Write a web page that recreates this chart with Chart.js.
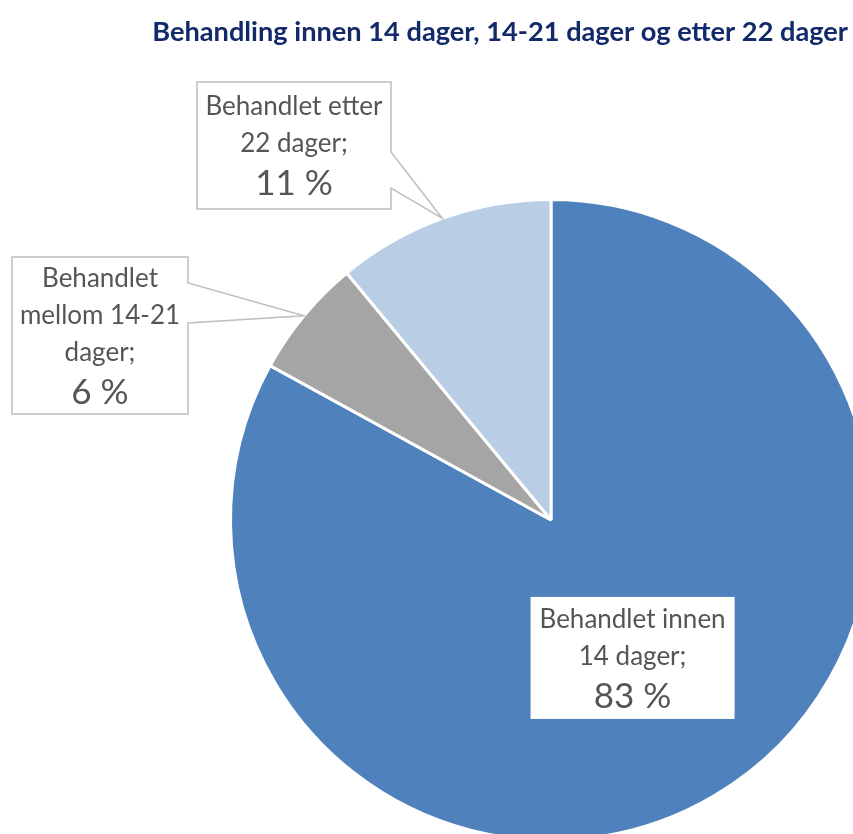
<!DOCTYPE html>
<html>
<head>
<meta charset="utf-8">
<script src="https://cdn.jsdelivr.net/npm/chart.js@4.4.1/dist/chart.umd.min.js"></script>
<style>
    html, body { margin: 0; padding: 0; overflow: hidden; background: #fff; }
    #wrap { position: relative; width: 900px; height: 900px; }
</style>
</head>
<body>
<div id="wrap"><canvas id="pieChart" width="900" height="900"></canvas></div>
<script>
const chartTitle = 'Behandling innen 14 dager, 14-21 dager og etter 22 dager';
const categories = ['Behandlet innen 14 dager', 'Behandlet mellom 14-21 dager', 'Behandlet etter 22 dager'];
const labelLines = [
    ['Behandlet innen', '14 dager;'],
    ['Behandlet', 'mellom 14-21', 'dager;'],
    ['Behandlet etter', '22 dager;']
];
const shares = [83, 6, 11];
const sliceColors = ['#4F81BD', '#A5A5A5', '#B9CDE5'];

// label boxes (callout = box outside the pie pointing to the slice)
const labelBoxes = [
    { inside: true, w: 204, h: 122 },
    { x: 12, y: 257, w: 176, h: 157, wedge: [26, 66] },
    { x: 197, y: 82, w: 194, h: 127, wedge: [70, 106] }
];

const FONT = 'Lato, "Open Sans", sans-serif';
const TEXT_COLOR = '#555555';

const labelPlugin = {
    id: 'calloutLabels',
    afterDatasetsDraw(chart) {
        const ctx = chart.ctx;
        const meta = chart.getDatasetMeta(0);

        // titel
        ctx.save();
        ctx.font = 'bold 26px ' + FONT;
        const tw = ctx.measureText(chartTitle).width;
        const size = 26 * 696 / tw;
        ctx.font = 'bold ' + size.toFixed(1) + 'px ' + FONT;
        ctx.fillStyle = '#12296A';
        ctx.textAlign = 'right';
        ctx.textBaseline = 'middle';
        ctx.fillText(chartTitle, 848, 32);
        ctx.restore();

        meta.data.forEach((arc, i) => {
            const p = arc.getProps(['x', 'y', 'startAngle', 'endAngle', 'outerRadius']);
            const mid = (p.startAngle + p.endAngle) / 2;
            const box = labelBoxes[i];
            let bx, by;

            ctx.save();
            if (box.inside) {
                const cx = p.x + Math.cos(mid) * p.outerRadius / 2;
                const cy = p.y + Math.sin(mid) * p.outerRadius / 2;
                bx = cx - box.w / 2;
                by = cy - box.h / 2;
                ctx.fillStyle = '#fff';
                ctx.fillRect(bx, by, box.w, box.h);
            } else {
                bx = box.x;
                by = box.y;
                const tipX = p.x + Math.cos(mid) * p.outerRadius;
                const tipY = p.y + Math.sin(mid) * p.outerRadius;
                const r = bx + box.w;
                ctx.beginPath();
                ctx.moveTo(bx, by);
                ctx.lineTo(r, by);
                ctx.lineTo(r, by + box.wedge[0]);
                ctx.lineTo(tipX, tipY);
                ctx.lineTo(r, by + box.wedge[1]);
                ctx.lineTo(r, by + box.h);
                ctx.lineTo(bx, by + box.h);
                ctx.closePath();
                ctx.fillStyle = '#fff';
                ctx.fill();
                ctx.strokeStyle = '#BFBFBF';
                ctx.lineWidth = 1.5;
                ctx.stroke();
            }

            // tekst
            const lines = labelLines[i];
            const nameStep = 37, pctStep = 40;
            const total = (lines.length - 1) * nameStep + pctStep;
            let y = by + box.h / 2 - total / 2;
            const cx = bx + box.w / 2;
            ctx.fillStyle = TEXT_COLOR;
            ctx.textAlign = 'center';
            ctx.textBaseline = 'middle';
            ctx.font = '26px ' + FONT;
            lines.forEach((line, k) => {
                ctx.fillText(line, cx, y + k * nameStep);
            });
            ctx.font = '35px ' + FONT;
            ctx.fillText(shares[i] + ' %', cx, y + (lines.length - 1) * nameStep + pctStep);
            ctx.restore();
        });
    }
};

new Chart(document.getElementById('pieChart'), {
    type: 'pie',
    data: {
        labels: categories,
        datasets: [{
            data: shares,
            backgroundColor: sliceColors,
            borderColor: '#fff',
            borderWidth: 3,
            hoverOffset: 0,
            clip: false
        }]
    },
    options: {
        responsive: false,
        animation: false,
        layout: { padding: { left: 229, top: 198, right: 27, bottom: 58 } },
        plugins: {
            legend: { display: false },
            tooltip: { enabled: false },
            title: { display: false }
        }
    },
    plugins: [labelPlugin]
});
</script>
</body>
</html>
